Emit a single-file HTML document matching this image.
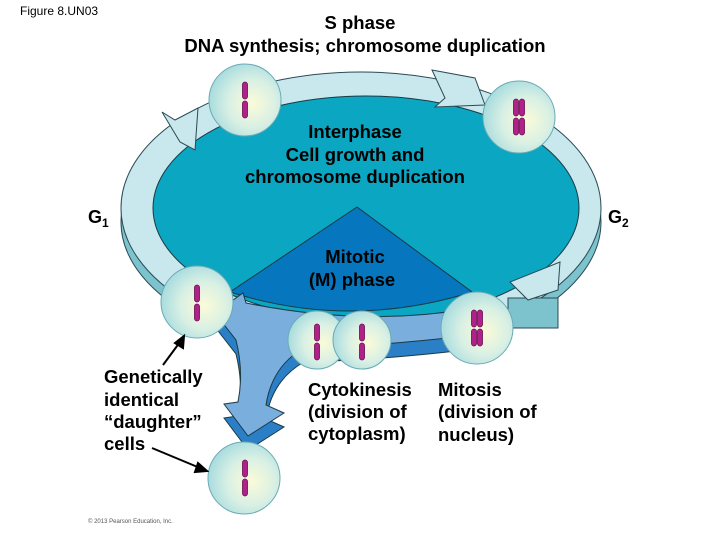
<!DOCTYPE html>
<html><head><meta charset="utf-8"><style>
body{margin:0;background:#fff;}
svg{display:block;font-family:"Liberation Sans",Arial,sans-serif;}
</style></head><body>
<svg width="720" height="540" viewBox="0 0 720 540" xmlns="http://www.w3.org/2000/svg">
<defs>
<radialGradient id="cell" cx="0.6" cy="0.55" r="0.6">
<stop offset="0" stop-color="#fbfbd8"/><stop offset="0.55" stop-color="#d9f0e4"/><stop offset="1" stop-color="#a9dcdf"/>
</radialGradient>
<g id="chr1"><rect x="-2.5" y="-18" width="5" height="17" rx="2.5" fill="#b0228a" stroke="#6a0e50" stroke-width="0.8"/><rect x="-2.5" y="1" width="5" height="17" rx="2.5" fill="#b0228a" stroke="#6a0e50" stroke-width="0.8"/></g>
<g id="chr2"><use href="#chr1" x="-3"/><use href="#chr1" x="3"/></g>
<path id="blue" d="M215 313 L243 293 L246 303 Q360 326 462 310 L465 336 Q380 346 304 348 Q272 366 266 405 L284 413 L248 436 L224 404 L238 402 Q244 372 236 340 Z"/>
</defs>
<ellipse cx="361" cy="222" rx="240" ry="132" fill="#7cc3cd" stroke="#2a4a55" stroke-width="1"/>
<ellipse cx="361" cy="208" rx="240" ry="136" fill="#c8e8ed" stroke="#2a4a55" stroke-width="1"/>
<path d="M508 298 L558 298 L558 328 L508 328 Z" fill="#7cc3cd" stroke="#2a4a55"/>
<ellipse cx="366" cy="208" rx="213" ry="112" fill="#0aa6c2" stroke="#1a3a45" stroke-width="1"/>
<path d="M162 112 L175 120 L198 108 L195 150 L180 142 Z" fill="#c8e8ed" stroke="#2a4a55"/>
<path d="M432 70 L475 78 L485 105 L435 107 L445 98 Z" fill="#c8e8ed" stroke="#2a4a55"/>
<path d="M560 262 L558 290 L528 300 L510 282 Z" fill="#c8e8ed" stroke="#2a4a55"/>
<path d="M357 207 L230 292 Q350 330 472 292 Z" fill="#0677bf" stroke="#1a3a45" stroke-width="1"/>
<use href="#blue" x="0" y="14" fill="#2b7fc6" stroke="#1a3a45"/>
<use href="#blue" fill="#7aaedc" stroke="#1a3a45"/>
<g stroke="#6aaab5" stroke-width="1">
<circle cx="245" cy="100" r="36" fill="url(#cell)"/>
<circle cx="519" cy="117" r="36" fill="url(#cell)"/>
<circle cx="197" cy="302" r="36" fill="url(#cell)"/>
<circle cx="477" cy="328" r="36" fill="url(#cell)"/>
<circle cx="317" cy="340" r="29" fill="url(#cell)"/>
<circle cx="362" cy="340" r="29" fill="url(#cell)"/>
<circle cx="244" cy="478" r="36" fill="url(#cell)"/>
</g>
<use href="#chr1" x="245" y="100"/>
<use href="#chr2" x="519" y="117"/>
<use href="#chr1" x="197" y="303"/>
<use href="#chr2" x="477" y="328"/>
<use href="#chr1" x="317" y="342"/>
<use href="#chr1" x="362" y="342"/>
<use href="#chr1" x="245" y="478"/>
<g stroke="#000" stroke-width="2" fill="#000">
<line x1="163" y1="365" x2="180" y2="342"/><path d="M184 336 L183 348 L175 343 Z"/>
<line x1="152" y1="448" x2="200" y2="468"/><path d="M207 471 L195 472 L198 463 Z"/>
</g>
<text x="20" y="15" font-size="12">Figure 8.UN03</text>
<g font-size="18.5" font-weight="bold" text-anchor="middle">
<text x="360" y="29">S phase</text>
<text x="365" y="52">DNA synthesis; chromosome duplication</text>
<text x="355" y="138">Interphase</text>
<text x="355" y="161">Cell growth and</text>
<text x="355" y="183">chromosome duplication</text>
<text x="355" y="263">Mitotic</text>
<text x="352" y="286">(M) phase</text>
</g>
<text x="88" y="223" font-size="18" font-weight="bold">G<tspan font-size="12" dy="4">1</tspan></text>
<text x="608" y="223" font-size="18" font-weight="bold">G<tspan font-size="12" dy="4">2</tspan></text>
<g font-size="18.5" font-weight="bold">
<text x="104" y="383">Genetically</text>
<text x="104" y="406">identical</text>
<text x="104" y="428">“daughter”</text>
<text x="104" y="450">cells</text>
<text x="308" y="396">Cytokinesis</text>
<text x="308" y="418">(division of</text>
<text x="308" y="440">cytoplasm)</text>
<text x="438" y="396">Mitosis</text>
<text x="438" y="418">(division of</text>
<text x="438" y="441">nucleus)</text>
</g>
<text x="88" y="523" font-size="6" fill="#555">© 2013 Pearson Education, Inc.</text>
</svg>
</body></html>
